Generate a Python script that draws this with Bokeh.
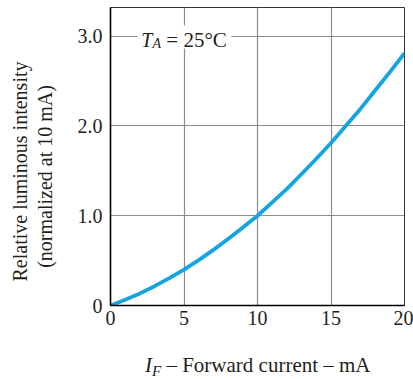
from bokeh.plotting import figure
from bokeh.models import Label, BoxAnnotation, FixedTicker, Range1d, Div
from bokeh.layouts import column
from bokeh.embed import file_html
from bokeh.resources import INLINE

# Data
forward_current_mA = [0, 1, 2, 3, 4, 5, 6, 7, 8, 9, 10, 11, 12, 13, 14, 15, 16, 17, 18, 19, 20]
relative_intensity = [0, 0.065, 0.135, 0.215, 0.305, 0.40, 0.505, 0.62, 0.74, 0.87, 1.00,
                      1.15, 1.30, 1.465, 1.635, 1.81, 2.00, 2.19, 2.395, 2.60, 2.81]
x_ticks = [0, 5, 10, 15, 20]
y_ticks = [0, 1, 2, 3]
y_tick_labels = {0: "0", 1: "1.0", 2: "2.0", 3: "3.0"}

FONT = "Liberation Serif"
INK = "#231f20"
NB = "\u00a0"

p = figure(width=413, height=345, output_backend="svg", toolbar_location=None,
           x_range=Range1d(0, 20), y_range=Range1d(0, 3.32),
           min_border_left=110, min_border_right=9, min_border_top=7, min_border_bottom=40)
p.background_fill_color = "white"
p.border_fill_color = "white"
p.outline_line_color = "#333333"
p.outline_line_width = 1

p.line(forward_current_mA, relative_intensity, line_color="#13a4e2", line_width=3.8)

for ax in (p.xaxis[0], p.yaxis[0]):
    ax.axis_line_color = "black"
    ax.axis_line_width = 1.6
    ax.major_tick_line_color = None
    ax.minor_tick_line_color = None
    ax.major_tick_out = 0
    ax.major_tick_in = 0
    ax.minor_tick_out = 0
    ax.minor_tick_in = 0
    ax.major_label_text_font = FONT
    ax.major_label_text_font_size = "20px"
    ax.major_label_text_color = INK

p.xaxis.ticker = FixedTicker(ticks=x_ticks)
p.yaxis.ticker = FixedTicker(ticks=y_ticks)
p.yaxis.major_label_overrides = y_tick_labels
p.xaxis.major_label_standoff = 5
p.yaxis.major_label_standoff = 8

p.yaxis.axis_label = ("Relative luminous intensity" + NB * 6 + "\n"
                      + "(normalized at 10 mA)" + NB * 8)
p.yaxis.axis_label_text_font = FONT
p.yaxis.axis_label_text_font_size = "20px"
p.yaxis.axis_label_text_font_style = "normal"
p.yaxis.axis_label_text_color = INK
p.yaxis.axis_label_text_line_height = 1.1
p.yaxis.axis_label_standoff = 19

p.xgrid.ticker = FixedTicker(ticks=x_ticks)
p.ygrid.ticker = FixedTicker(ticks=y_ticks)
for g in (p.xgrid[0], p.ygrid[0]):
    g.grid_line_color = "#8c8c8c"
    g.grid_line_width = 1.2

# white box behind the annotation
p.add_layout(BoxAnnotation(left=1.84, right=8.23, bottom=2.864, top=3.12,
                           fill_color="white", fill_alpha=1.0, line_color=None))

def lab(x, y, text, size="20px", style="normal"):
    p.add_layout(Label(x=x, y=y, text=text, text_font=FONT, text_font_size=size,
                       text_font_style=style, text_color=INK,
                       text_align="left", text_baseline="alphabetic"))

lab(2.10, 2.961, "T", style="italic")
lab(2.86, 2.917, "A", size="14px", style="italic")
lab(3.80, 2.961, "= 25°C", size="21px")

xlabel = Div(
    text=('<span style="font-style:italic">I</span>'
          '<span style="font-style:italic;font-size:15px;position:relative;top:4px;">F</span>'
          ' – Forward current – mA'),
    width=413, height=34,
    styles={"font-family": FONT, "font-size": "21px", "color": INK,
            "line-height": "24px", "padding-left": "140px", "padding-top": "3px",
            "white-space": "nowrap", "box-sizing": "border-box"},
)

open("out.html", "w").write(file_html(column(p, xlabel), INLINE))
